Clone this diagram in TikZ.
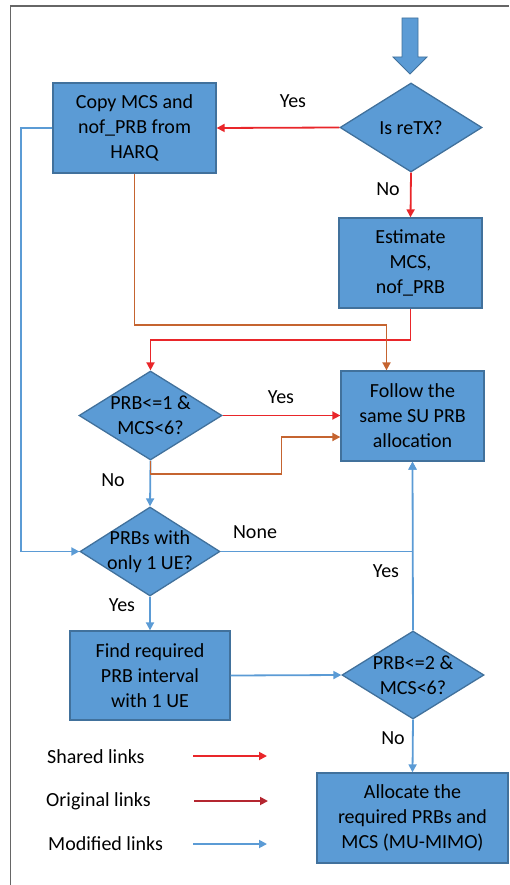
\documentclass[tikz,border=0pt]{standalone}
\usepackage{fontspec}
\setmainfont{Carlito}
\usetikzlibrary{arrows.meta, positioning, shapes}
\definecolor{boxblue}{RGB}{91,155,213}
\definecolor{boxline}{RGB}{65,113,156}
\definecolor{sharedred}{RGB}{233,38,42}
\definecolor{origbrown}{RGB}{197,100,48}
\definecolor{origred}{RGB}{180,38,48}
\definecolor{modblue}{RGB}{91,155,213}
\tikzset{
	box/.style={draw=boxline, fill=boxblue, line width=1.3pt, align=center, inner sep=0pt, minimum width=143pt, minimum height=90pt, font=\fontsize{20}{25}\selectfont},
	dec/.style={diamond, aspect=1.6, draw=boxline, fill=boxblue, line width=1.3pt, align=center, inner sep=-8pt, minimum width=142pt, minimum height=89pt, font=\fontsize{20}{25}\selectfont},
	lbl/.style={inner sep=0pt, font=\fontsize{20}{25}\selectfont},
	tip/.style={-{Triangle[length=8pt, width=8pt]}},
	shared/.style={draw=sharedred, line width=1.8pt, tip},
	orig/.style={draw=origbrown, line width=1.8pt, tip},
	modified/.style={draw=modblue, line width=1.8pt, tip}
}
\begin{document}
\begin{tikzpicture}[x=1pt, y=-1pt]
		\useasboundingbox (0,0) rectangle (509,885);
			%frame
			\draw[gray!80!black, line width=1.2pt] (10.5,885) -- (10.5,6) -- (509,6);
			%start arrow
			\filldraw[fill=boxblue, draw=boxline, line width=0.8pt] (402,18) -- (418,18) -- (418,57) -- (427,57) -- (410,74) -- (393,57) -- (402,57) -- cycle;

			\node[box, minimum width=163pt] (copy) at (134.5,128) {Copy MCS and\\nof\_PRB from\\HARQ};
			\node[dec] (retx) at (411,127.5) {Is reTX?};
			\node[box] (est) at (410.5,263) {Estimate\\MCS,\\nof\_PRB};
			\node[dec, minimum width=143pt] (prb1) at (150.5,415.5) {PRB<=1 \&\\MCS<6?};
			\node[box] (follow) at (412.5,416) {Follow the\\same SU PRB\\allocation};
			\node[dec, minimum width=140pt] (prbs) at (150,551.5) {PRBs with\\only 1 UE?};
			\node[box, minimum width=160pt, minimum height=89pt] (find) at (150,675.5) {Find required\\PRB interval\\with 1 UE};
			\node[dec, minimum height=88pt] (prb2) at (413,675) {PRB<=2 \&\\MCS<6?};
			\node[box, minimum width=191pt] (alloc) at (412.5,818) {Allocate the\\required PRBs and\\MCS (MU-MIMO)};

			%modified links
			\draw[modified] (copy.west) -- ++(-31,0) |- (prbs.west);
			\draw[modified] (prb1.south) -- (prbs.north);
			\draw[modified] (prbs.east) -| (follow.south);
			\draw[modified] (prb2.north) -- (follow.south);
			\draw[modified] (prbs.south) -- (find.north);
			\draw[modified] (find.east) -- (prb2.west);
			\draw[modified] (prb2.south) -- (alloc.north);

			%shared links
			\draw[shared] (retx.west) -- (copy.east);
			\draw[shared] (retx.south) -- (est.north);
			\draw[shared] (est.south) -- ++(0,31) -| (prb1.north);
			\draw[shared] (prb1.east) -- (prb1.east -| follow.west);

			%original links
			\draw[orig] (copy.south) -- ++(0,151) -| ([xshift=-26pt]follow.north);
			\draw[orig] (prb1.south) -- ++(0,13) -- ++(131,0) |- ([yshift=-21pt]follow.west);

			%labels
			\node[lbl] (yes1) at (293,101) {Yes};
			\node[lbl] (no1) at (388,189) {No};
			\node[lbl] (yes2) at (281,397) {Yes};
			\node[lbl] (no2) at (113,480) {No};
			\node[lbl] (none) at (255,532) {None};
			\node[lbl] (yes3) at (386,571) {Yes};
			\node[lbl] (yes4) at (122,605) {Yes};
			\node[lbl] (no3) at (393,738) {No};

			%legend
			\node[lbl, anchor=west] (lshared) at (47,757) {Shared links};
			\node[lbl, anchor=west] (lorig) at (46,801) {Original links};
			\node[lbl, anchor=west] (lmod) at (48,844) {Modified links};
			\coordinate (ls) at (193,756);
			\coordinate (lo) at (194,801);
			\coordinate (lm) at (193,844);
			\draw[shared] (ls) -- ++(74,0);
			\draw[orig, draw=origred] (lo) -- ++(74,0);
			\draw[modified] (lm) -- ++(74,0);
	\end{tikzpicture}
\end{document}
